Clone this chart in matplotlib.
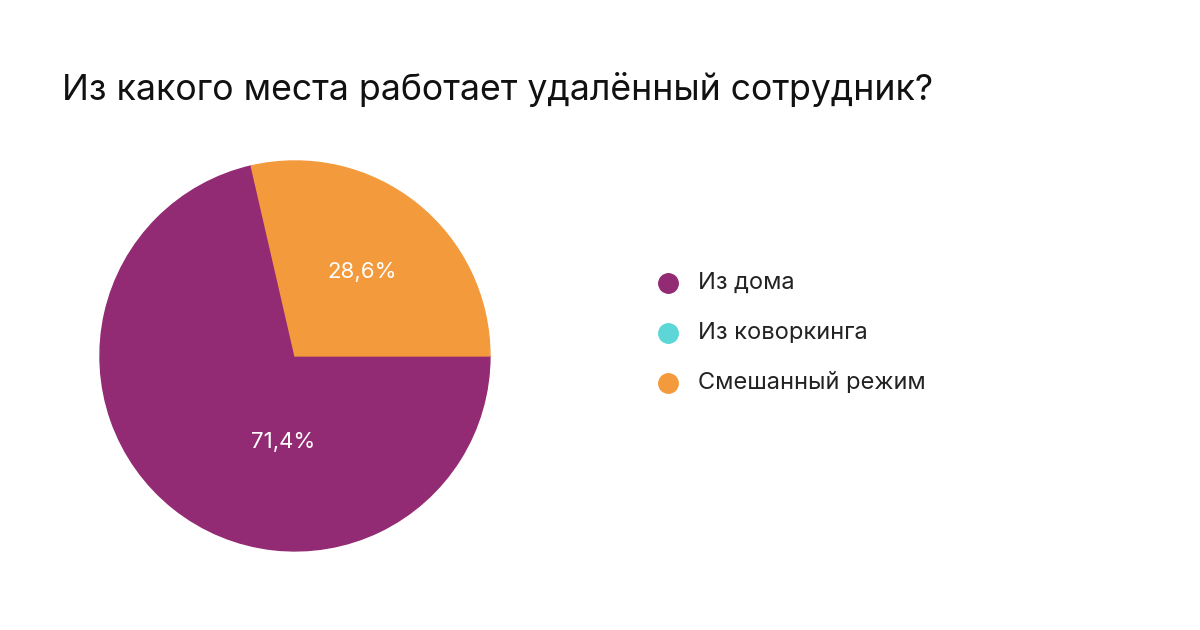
import matplotlib
matplotlib.use("Agg")
import matplotlib.pyplot as plt
from matplotlib.lines import Line2D

categories = ["Из дома", "Из коворкинга", "Смешанный режим"]
values = [71.4, 0.0, 28.6]
colors = ["#922B73", "#5CD6D6", "#F39A3D"]
title = "Из какого места работает удалённый сотрудник?"

plt.rcParams["font.family"] = "Inter"
fig = plt.figure(figsize=(12, 6.3), dpi=100)
fig.patch.set_facecolor("white")
fig.text(62/1200, 1-100/630, title, fontsize=25.7, color="#111111", va="baseline", ha="left")

ax = fig.add_axes([0.0833, 0.1255, 0.325, 0.619])
nz = [(v, c) for v, c in zip(values, colors) if v > 0]
start = 360 * values[2] / 100
wedges, texts, autotexts = ax.pie([v for v, _ in nz], colors=[c for _, c in nz],
    startangle=start, counterclock=True, radius=1,
    autopct=lambda p: f"{p:.1f}".replace(".", ","),
    pctdistance=0.55, wedgeprops=dict(linewidth=1),
    textprops=dict(color="white", fontsize=16))
for w, c in zip(wedges, [c for _, c in nz]):
    w.set_edgecolor(c)
for t in autotexts:
    t.set_text(t.get_text() + "%")
autotexts[0].set_position((-0.06, -0.44))
ax.set_xlim(-1, 1)
ax.set_ylim(-1, 1)
ax.set_aspect("equal")
ax.axis("off")

for i, (cat, col) in enumerate(zip(categories, colors)):
    y = 1 - (283 + 50*i)/630
    fig.add_artist(Line2D([668/1200], [y], marker="o", markersize=14, color=col, linestyle="none"))
    fig.text(698/1200, y, cat, fontsize=17, color="#222222", va="center", ha="left")

fig.savefig("out.png", dpi=100, facecolor="white")
